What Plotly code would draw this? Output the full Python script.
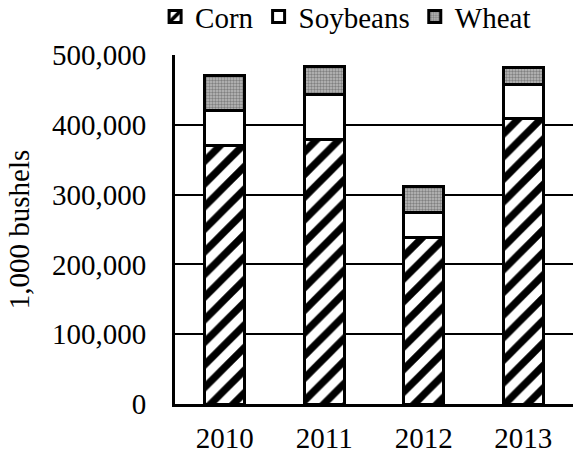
import plotly.graph_objects as go

# Grain production by year, in 1,000 bushels
years = ["2010", "2011", "2012", "2013"]
corn = [371000, 379000, 239000, 409000]
soybeans = [50000, 65000, 35000, 49000]
wheat = [49000, 39000, 37000, 24000]

FONT = "Liberation Serif"
FS = 29

fig = go.Figure()
fig.add_trace(go.Bar(
    name="Corn", x=years, y=corn,
    marker=dict(color="white", line=dict(color="black", width=3),
                pattern=dict(shape="/", fgcolor="#000000", bgcolor="#ffffff",
                             fgopacity=1, fillmode="replace",
                             size=16, solidity=0.45)),
))
fig.add_trace(go.Bar(
    name="Soybeans", x=years, y=soybeans,
    marker=dict(color="white", line=dict(color="black", width=3)),
))
fig.add_trace(go.Bar(
    name="Wheat", x=years, y=wheat,
    marker=dict(color="#9a9a9a", line=dict(color="black", width=3),
                pattern=dict(shape=".", fgcolor="#444444", bgcolor="#bdbdbd",
                             size=3, solidity=0.5)),
))

fig.update_layout(
    barmode="stack",
    bargap=0.6,
    width=574, height=455,
    margin=dict(l=175, r=1, t=55, b=51, autoexpand=False),
    paper_bgcolor="white", plot_bgcolor="white",
    font=dict(family=FONT, size=FS, color="black"),
    showlegend=True,
    legend=dict(orientation="h", x=-0.05, xanchor="left", y=1.11, yanchor="middle",
                font=dict(family=FONT, size=FS), traceorder="normal",
                itemwidth=30, tracegroupgap=0, bgcolor="rgba(0,0,0,0)"),
)
fig.update_xaxes(
    showline=True, linecolor="black", linewidth=3,
    ticks="", showgrid=False, ticklabelstandoff=6,
    tickfont=dict(family=FONT, size=FS),
)
fig.update_yaxes(
    range=[0, 500000], dtick=100000, tickformat=",",
    showline=True, linecolor="black", linewidth=3,
    showgrid=True, gridcolor="black", gridwidth=1.5,
    zeroline=False, ticks="", ticklabelstandoff=20,
    tickfont=dict(family=FONT, size=FS),
    title=dict(text="1,000 bushels", font=dict(family=FONT, size=FS), standoff=14),
)

fig.write_html("out.html")
